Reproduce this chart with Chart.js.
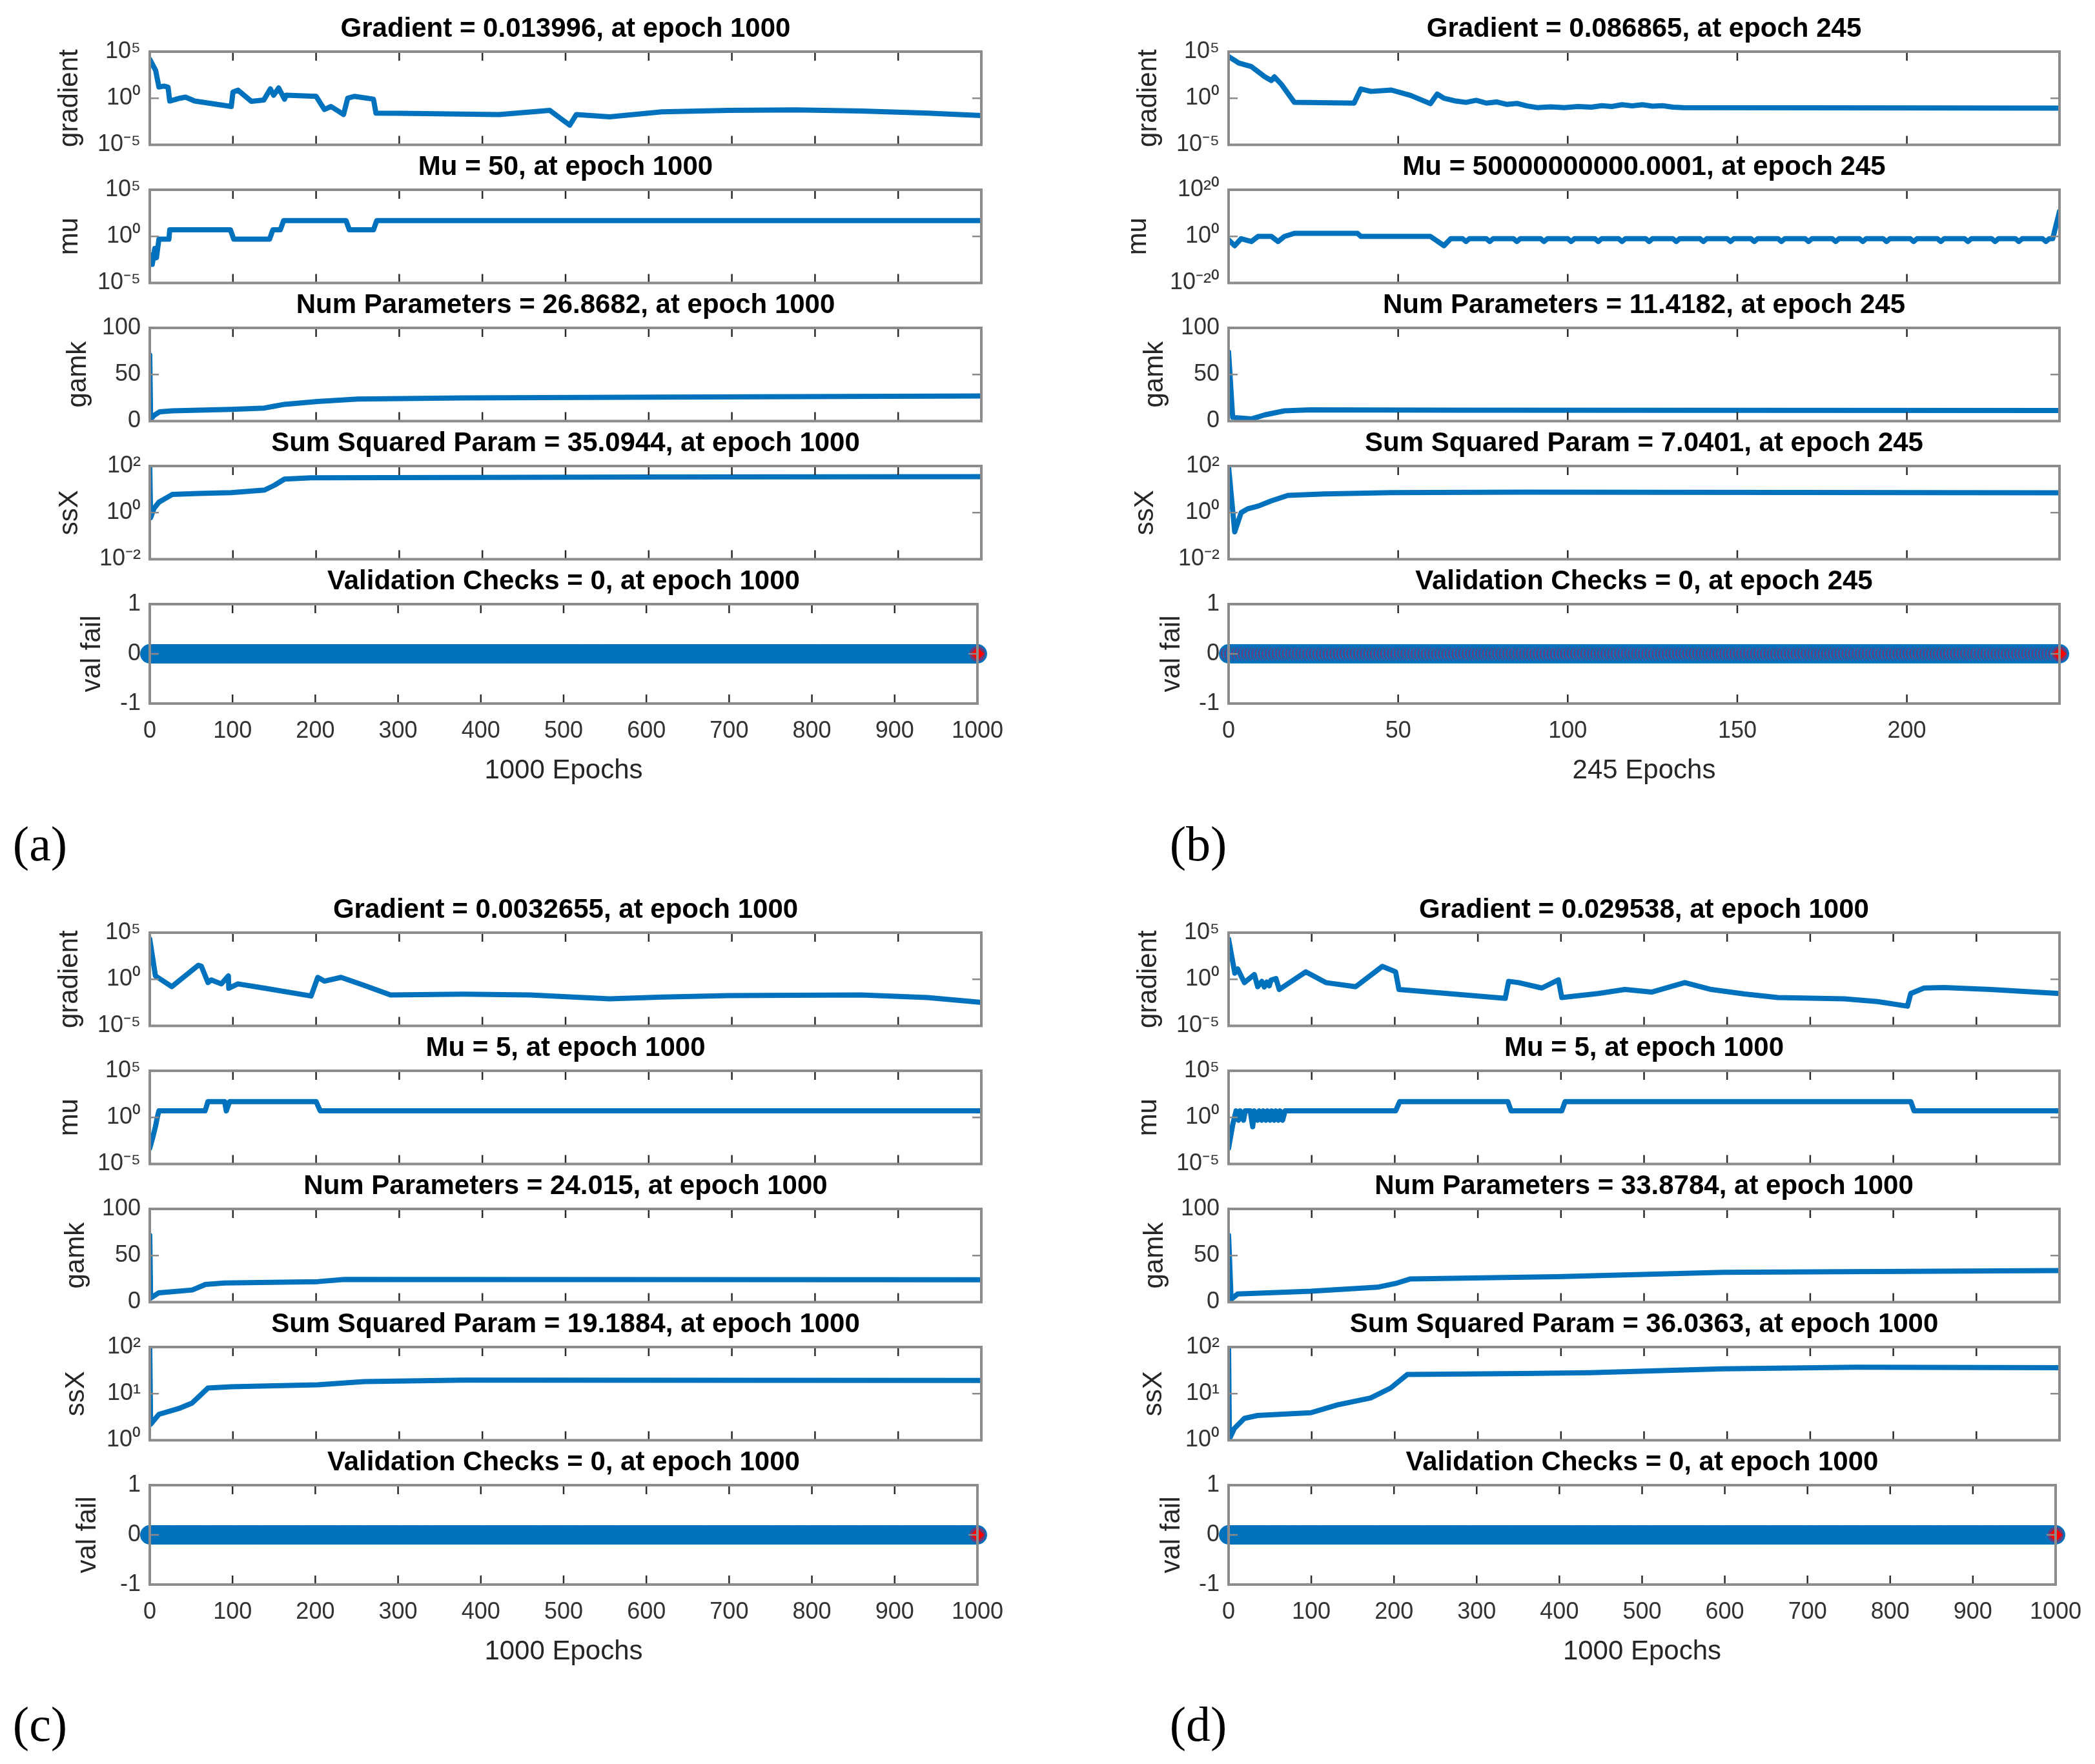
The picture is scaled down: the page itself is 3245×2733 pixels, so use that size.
<!DOCTYPE html>
<html>
<head>
<meta charset="utf-8">
<script src="https://cdn.jsdelivr.net/npm/chart.js@4.4.1/dist/chart.umd.min.js"></script>
<style>
  body { margin: 0; background: #fff; width: 3245px; height: 2733px; position: relative; overflow: hidden; }
  canvas { position: absolute; }
  .tag { position: absolute; font-family: 'Liberation Serif', 'Times New Roman', serif; font-size: 76px; line-height: 1; transform: translate(-50%, -50%); color: #000; }
</style>
</head>
<body>
<div class="tag" style="left:62px;top:1307px">(a)</div>
<div class="tag" style="left:1856px;top:1307px">(b)</div>
<div class="tag" style="left:62px;top:2671px">(c)</div>
<div class="tag" style="left:1856px;top:2671px">(d)</div>
<script>
// ---- tick values and labels ----
const epochTicks1000 = [0, 100, 200, 300, 400, 500, 600, 700, 800, 900, 1000];
const epochTickLabels1000 = ['0', '100', '200', '300', '400', '500', '600', '700', '800', '900', '1000'];
const epochTicks245 = [0, 50, 100, 150, 200];
const epochTickLabels245 = ['0', '50', '100', '150', '200'];
const gradTicks = [1e-5, 1, 1e5];
const gradTickLabels = ['10⁻⁵', '10⁰', '10⁵'];
const muTicksB = [1e-20, 1, 1e20];
const muTickLabelsB = ['10⁻²⁰', '10⁰', '10²⁰'];
const gamkTicks = [0, 50, 100];
const gamkTickLabels = ['0', '50', '100'];
const ssxTicksAB = [1e-2, 1, 1e2];
const ssxTickLabelsAB = ['10⁻²', '10⁰', '10²'];
const ssxTicksCD = [1, 10, 100];
const ssxTickLabelsCD = ['10⁰', '10¹', '10²'];
const valFailTicks = [-1, 0, 1];
const valFailTickLabels = ['-1', '0', '1'];

const yLabels = ['gradient', 'mu', 'gamk', 'ssX', 'val fail'];

const titlesA = ['Gradient = 0.013996, at epoch 1000', 'Mu = 50, at epoch 1000',
  'Num Parameters = 26.8682, at epoch 1000', 'Sum Squared Param = 35.0944, at epoch 1000',
  'Validation Checks = 0, at epoch 1000'];
const titlesB = ['Gradient = 0.086865, at epoch 245', 'Mu = 50000000000.0001, at epoch 245',
  'Num Parameters = 11.4182, at epoch 245', 'Sum Squared Param = 7.0401, at epoch 245',
  'Validation Checks = 0, at epoch 245'];
const titlesC = ['Gradient = 0.0032655, at epoch 1000', 'Mu = 5, at epoch 1000',
  'Num Parameters = 24.015, at epoch 1000', 'Sum Squared Param = 19.1884, at epoch 1000',
  'Validation Checks = 0, at epoch 1000'];
const titlesD = ['Gradient = 0.029538, at epoch 1000', 'Mu = 5, at epoch 1000',
  'Num Parameters = 33.8784, at epoch 1000', 'Sum Squared Param = 36.0363, at epoch 1000',
  'Validation Checks = 0, at epoch 1000'];

// ---- series, [epoch, value] ----
const gradientA = [[0, 1.5e4], [7, 1e3], [11, 16], [17, 20], [22, 15], [24, 0.5], [36, 1], [43, 1.3],
  [54, 0.5], [98, 0.13], [100, 4.5], [106, 7.4], [122, 0.47], [137, 0.63], [145, 10], [149, 2.1],
  [155, 12.6], [162, 0.8], [164, 2.1], [200, 1.6], [210, 0.063], [218, 0.13], [233, 0.018], [238, 1],
  [246, 1.6], [269, 0.8], [272, 0.025], [300, 0.024], [420, 0.018], [481, 0.05], [490, 0.0126],
  [505, 0.0013], [513, 0.018], [553, 0.01], [616, 0.035], [696, 0.05], [776, 0.056], [856, 0.043],
  [935, 0.025], [1000, 0.014]];
const muA = [[0, 1e-3], [2, 0.01], [3, 1e-3], [6, 0.05], [8, 0.005], [11, 0.5], [23, 0.5], [24, 5],
  [97, 5], [101, 0.5], [144, 0.5], [148, 5], [157, 5], [161, 50], [236, 50], [240, 5], [269, 5],
  [273, 50], [1000, 50]];
const gamkA = [[0, 71], [1, 2], [5, 6], [12, 10], [27, 11], [98, 12.5], [138, 14], [150, 16], [162, 18],
  [202, 21], [250, 23.6], [377, 24.8], [617, 25.7], [1000, 26.9]];
const ssxA = [[0, 100], [1, 0.6], [5, 1.5], [11, 2.8], [27, 6], [59, 6.6], [98, 7.2], [138, 9.3],
  [150, 15], [162, 27.5], [194, 31], [377, 32], [617, 34], [1000, 35.1]];

const gradientB = [[0, 3e4], [3, 6e3], [6.7, 2.5e3], [10.7, 200], [12.6, 80], [13.5, 200], [15.6, 30],
  [19.4, 0.36], [37, 0.3], [39, 10], [42, 5.4], [48, 7.6], [53.7, 2], [59.5, 0.26], [61.5, 2.8],
  [63.5, 1], [67, 0.5], [70, 0.36], [73, 0.6], [76, 0.3], [79, 0.4], [82, 0.22], [85, 0.28], [88, 0.15],
  [91, 0.1], [95, 0.12], [99, 0.1], [103, 0.13], [107, 0.11], [110, 0.16], [113, 0.13], [116, 0.2],
  [119, 0.15], [122, 0.2], [125, 0.14], [128, 0.16], [131, 0.11], [134, 0.1], [245, 0.087]];
const muB = [[0, 0.03], [1.8, 1e-4], [3.7, 0.1], [6.7, 0.006], [8.7, 1], [12.6, 1], [14.6, 0.006],
  [16.5, 1], [19.4, 20], [38, 20], [39, 1], [59.5, 1], [63.5, 1e-4], [65.5, 0.1],
  [69, 0.1], [70, 0.006], [71, 0.1], [76, 0.1], [77, 0.006], [78, 0.1], [84, 0.1], [85, 0.006], [86, 0.1],
  [92, 0.1], [93, 0.006], [94, 0.1], [100, 0.1], [101, 0.006], [102, 0.1], [108, 0.1], [109, 0.006],
  [110, 0.1], [115, 0.1], [116, 0.006], [117, 0.1], [123, 0.1], [124, 0.006], [125, 0.1], [131, 0.1],
  [132, 0.006], [133, 0.1], [139, 0.1], [140, 0.006], [141, 0.1], [147, 0.1], [148, 0.006], [149, 0.1],
  [154, 0.1], [155, 0.006], [156, 0.1], [162, 0.1], [163, 0.006], [164, 0.1], [170, 0.1], [171, 0.006],
  [172, 0.1], [178, 0.1], [179, 0.006], [180, 0.1], [186, 0.1], [187, 0.006], [188, 0.1], [193, 0.1],
  [194, 0.006], [195, 0.1], [201, 0.1], [202, 0.006], [203, 0.1], [209, 0.1], [210, 0.006], [211, 0.1],
  [217, 0.1], [218, 0.006], [219, 0.1], [225, 0.1], [226, 0.006], [227, 0.1], [232, 0.1], [233, 0.006],
  [234, 0.1], [240, 0.1], [241, 0.006], [242, 0.1], [243, 0.1], [245, 5e10]];
const gamkB = [[0, 74], [1.2, 4], [6.7, 2.3], [10.7, 6.7], [16.5, 11], [24, 12], [67, 11.7], [245, 11.4]];
const ssxB = [[0, 92], [1.8, 0.15], [3.7, 1], [5.6, 1.45], [8.7, 1.9], [12.6, 3.2], [17.5, 5.5],
  [28.3, 6.3], [48, 7.2], [87, 7.6], [245, 7.04]];

const gradientC = [[0, 2e4], [6.8, 2.3], [26.5, 0.16], [58.5, 32], [62, 25], [70, 0.44], [74, 0.85],
  [86, 0.32], [94.5, 2.3], [95, 0.11], [106, 0.32], [138, 0.11], [194, 0.016], [202, 1.6], [210, 0.63],
  [230, 1.6], [258, 0.22], [289.5, 0.021], [377, 0.025], [457, 0.021], [553, 0.008], [617, 0.0126],
  [696, 0.018], [855, 0.021], [935, 0.011], [1000, 0.00327]];
const muC = [[0, 5e-4], [4, 0.01], [6.8, 0.1], [9, 1], [11, 5], [66.5, 5], [70, 50], [90, 50], [92, 5],
  [96, 50], [200, 50], [205, 5], [1000, 5]];
const gamkC = [[0, 71.6], [1, 4.4], [11, 10], [51, 13], [67, 19], [90, 20.5], [202, 22], [234, 24.3],
  [1000, 24]];
const ssxC = [[0, 93], [1, 2.2], [11, 3.6], [35, 4.8], [51, 6.3], [70, 13.2], [98, 14.1], [202, 15.5],
  [258, 18.2], [377, 19.5], [1000, 19.2]];

const gradientD = [[0, 2e4], [7.5, 4.5], [11, 12.6], [19, 0.44], [31, 3.2], [35, 0.16], [40, 0.6],
  [43, 0.15], [46, 0.5], [49, 0.2], [51, 0.8], [57, 1.2], [61, 0.08], [93, 6.3], [117, 0.44],
  [153, 0.16], [185, 24], [201, 6.3], [205, 0.08], [333, 0.009], [337, 0.6], [349, 0.44], [377, 0.115],
  [397, 0.85], [401, 0.011], [445, 0.03], [477, 0.08], [509, 0.042], [549, 0.44], [581, 0.08],
  [621, 0.026], [661, 0.011], [741, 0.008], [781, 0.004], [817, 0.0013], [821, 0.03], [837, 0.115],
  [861, 0.13], [917, 0.08], [1000, 0.0295]];
const muD = [[0, 5e-4], [5, 0.17], [9, 5], [12, 0.5], [14, 5], [18, 0.5], [20, 5], [26, 5], [29, 0.1],
  [31, 5], [35, 0.5], [37, 5], [40, 0.5], [42, 5], [45, 0.5], [47, 5], [50, 0.5], [52, 5], [55, 0.5],
  [57, 5], [60, 0.5], [62, 5], [65, 0.5], [68, 5], [201, 5], [206, 50], [336, 50], [340, 5], [401, 5],
  [405, 50], [821, 50], [825, 5], [1000, 5]];
const gamkD = [[0, 71.6], [3, 3], [11, 8.8], [99, 11.7], [179, 16], [203, 20.5], [219, 24.9],
  [395, 27.2], [595, 32], [1000, 33.9]];
const ssxD = [[0, 93], [1, 1.07], [7, 1.8], [19, 2.95], [35, 3.4], [99, 3.9], [131, 5.75], [171, 8.1],
  [195, 13.2], [215, 25.7], [355, 27], [435, 28.2], [595, 34], [755, 37], [1000, 36]];

// validation checks stayed at 0 for every epoch
const valFailA = new Array(1001).fill(0);
const valFailB = new Array(246).fill(0);
const valFailC = new Array(1001).fill(0);
const valFailD = new Array(1001).fill(0);

// ---- layout ----
const FONT = "'Liberation Sans', Arial, Helvetica, sans-serif";
const BLUE = '#0072BD';
const AXIS_W = 170, RIGHT_PAD = 55, TITLE_H = 70, PLOT_H = 154, STUB_H = 26, BOTTOM_H = 140;
const ROW_STEP = 214, TICK_LEN = 14;

const axesBox = {
  id: 'axesBox',
  afterDatasetsDraw(chart) {
    const {ctx, chartArea: a, scales: {x, y}} = chart;
    ctx.save();
    ctx.lineWidth = 2.5;
    ctx.strokeStyle = '#2b2b2b';
    x.ticks.forEach(t => {
      const px = x.getPixelForValue(t.value);
      ctx.beginPath();
      ctx.moveTo(px, a.bottom); ctx.lineTo(px, a.bottom - TICK_LEN);
      ctx.moveTo(px, a.top); ctx.lineTo(px, a.top + TICK_LEN);
      ctx.stroke();
    });
    ctx.strokeStyle = '#8a8a8a';
    y.ticks.forEach(t => {
      const py = y.getPixelForValue(t.value);
      ctx.beginPath();
      ctx.moveTo(a.left, py); ctx.lineTo(a.left + TICK_LEN, py);
      ctx.moveTo(a.right, py); ctx.lineTo(a.right - TICK_LEN, py);
      ctx.stroke();
    });
    ctx.lineWidth = 4;
    ctx.strokeStyle = '#8c8c8c';
    ctx.strokeRect(a.left, a.top, a.right - a.left, a.bottom - a.top);
    ctx.restore();
  }
};

function subplot(panel, row) {
  const isBottom = row === 4;
  const top = panel.top + row * ROW_STEP;
  const canvas = document.createElement('canvas');
  canvas.width = AXIS_W + panel.width + RIGHT_PAD;
  canvas.height = TITLE_H + PLOT_H + (isBottom ? BOTTOM_H : STUB_H);
  canvas.style.left = (panel.left - AXIS_W) + 'px';
  canvas.style.top = (top - TITLE_H) + 'px';
  document.body.appendChild(canvas);

  const axis = panel.axes[row];
  let datasets;
  if (isBottom) {
    const pts = panel.valFail.map((v, i) => ({x: i, y: v}));
    const last = pts[pts.length - 1];
    datasets = [
      {data: [last], showLine: false, pointStyle: 'rectRot', pointRadius: 10,
        pointBackgroundColor: '#ff0000', pointBorderColor: '#ff0000', pointBorderWidth: 1, clip: false},
      {data: pts, borderColor: BLUE, borderWidth: 2, pointStyle: 'circle', pointRadius: 13.5,
        pointBorderWidth: 3, pointBorderColor: BLUE, pointBackgroundColor: '#6b3c7a', clip: false}
    ];
  } else {
    datasets = [{
      data: panel.series[row].map(([e, v]) => ({x: e, y: v})),
      borderColor: BLUE, borderWidth: 8, pointRadius: 0, tension: 0,
      borderJoinStyle: 'round', borderCapStyle: 'round'
    }];
  }

  new Chart(canvas, {
    type: 'line',
    data: {datasets},
    plugins: [axesBox],
    options: {
      responsive: false,
      animation: false,
      events: [],
      layout: {padding: {left: 0, right: RIGHT_PAD, top: 0, bottom: 0}},
      plugins: {
        legend: {display: false},
        tooltip: {enabled: false},
        title: {
          display: true, fullSize: false, text: panel.titles[row], color: '#000',
          font: {family: FONT, size: 42, weight: 'bold'}, padding: {top: 10, bottom: 9.6}
        }
      },
      scales: {
        x: {
          type: 'linear', min: 0, max: panel.maxEpoch,
          afterBuildTicks: s => { s.ticks = panel.xTicks.map(v => ({value: v})); },
          afterFit: s => { s.height = isBottom ? BOTTOM_H : STUB_H; },
          grid: {display: false, drawTicks: false},
          border: {display: false},
          ticks: {display: isBottom, padding: 21, color: '#333', font: {family: FONT, size: 36},
            maxRotation: 0, autoSkip: false, callback: (v, i) => panel.xTickLabels[i]},
          title: {display: isBottom, text: panel.xLabel, color: '#262626',
            font: {family: FONT, size: 42}, padding: {top: 0, bottom: 10.8}}
        },
        y: {
          type: axis.type, min: axis.ticks[0], max: axis.ticks[axis.ticks.length - 1],
          afterBuildTicks: s => { s.ticks = axis.ticks.map(v => ({value: v})); },
          afterFit: s => { s.width = AXIS_W; },
          grid: {display: false, drawTicks: false},
          border: {display: false},
          ticks: {padding: 14, color: '#333', font: {family: FONT, size: 36},
            callback: (v, i) => axis.labels[i]},
          title: {display: true, text: yLabels[row], color: '#262626',
            font: {family: FONT, size: 42},
            padding: {top: AXIS_W + panel.ylabelAt[row] - 25.2, bottom: 0}}
        }
      }
    }
  });
}

const gradAxis = {type: 'logarithmic', ticks: gradTicks, labels: gradTickLabels};
const muAxisB = {type: 'logarithmic', ticks: muTicksB, labels: muTickLabelsB};
const gamkAxis = {type: 'linear', ticks: gamkTicks, labels: gamkTickLabels};
const ssxAxisAB = {type: 'logarithmic', ticks: ssxTicksAB, labels: ssxTickLabelsAB};
const ssxAxisCD = {type: 'logarithmic', ticks: ssxTicksCD, labels: ssxTickLabelsCD};
const valAxis = {type: 'linear', ticks: valFailTicks, labels: valFailTickLabels};

const panels = [
  {left: 232, top: 80, width: 1288, maxEpoch: 1000, xTicks: epochTicks1000, xTickLabels: epochTickLabels1000,
    xLabel: '1000 Epochs', titles: titlesA, series: [gradientA, muA, gamkA, ssxA], valFail: valFailA,
    axes: [gradAxis, gradAxis, gamkAxis, ssxAxisAB, valAxis], ylabelAt: [-124, -124, -111, -124, -89]},
  {left: 1903, top: 80, width: 1287, maxEpoch: 245, xTicks: epochTicks245, xTickLabels: epochTickLabels245,
    xLabel: '245 Epochs', titles: titlesB, series: [gradientB, muB, gamkB, ssxB], valFail: valFailB,
    axes: [gradAxis, muAxisB, gamkAxis, ssxAxisAB, valAxis], ylabelAt: [-124, -140, -114, -129, -88]},
  {left: 232, top: 1445, width: 1288, maxEpoch: 1000, xTicks: epochTicks1000, xTickLabels: epochTickLabels1000,
    xLabel: '1000 Epochs', titles: titlesC, series: [gradientC, muC, gamkC, ssxC], valFail: valFailC,
    axes: [gradAxis, gradAxis, gamkAxis, ssxAxisCD, valAxis], ylabelAt: [-124, -124, -114, -114, -96]},
  {left: 1903, top: 1445, width: 1287, maxEpoch: 1000, xTicks: epochTicks1000, xTickLabels: epochTickLabels1000,
    xLabel: '1000 Epochs', titles: titlesD, series: [gradientD, muD, gamkD, ssxD], valFail: valFailD,
    axes: [gradAxis, gradAxis, gamkAxis, ssxAxisCD, valAxis], ylabelAt: [-124, -124, -114, -116, -88]}
];

panels.forEach(p => { for (let r = 0; r < 5; r++) subplot(p, r); });
</script>
</body>
</html>
